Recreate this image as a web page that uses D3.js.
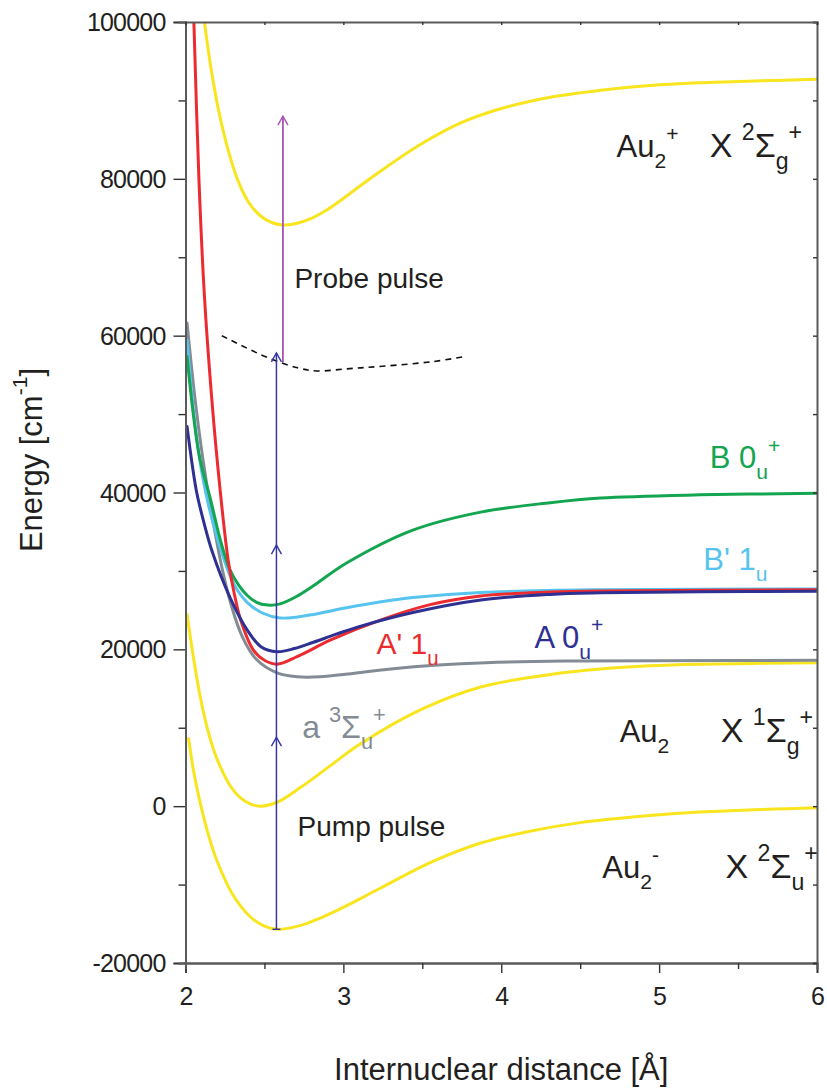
<!DOCTYPE html>
<html>
<head>
<meta charset="utf-8">
<script src="https://cdn.jsdelivr.net/npm/d3@7"></script>
<style>
body { margin: 0; background: #fff; }
text { font-family: "Liberation Sans", Arial, Helvetica, sans-serif; }
</style>
</head>
<body>
<svg width="827" height="1088"></svg>
<script>
// potential curves: internuclear distance (Å) and energy (cm-1)
const rCationX = [2.12, 2.16, 2.21, 2.27, 2.33, 2.40, 2.48, 2.55, 2.62, 2.70, 2.79, 2.90, 3.00, 3.12, 3.23, 3.49, 3.74, 3.99, 4.31, 4.63, 4.94, 5.26, 5.64, 6.00];
const eCationX = [100000, 94300, 88700, 83700, 79900, 77000, 75200, 74400, 74100, 74300, 74900, 76100, 77500, 79300, 80900, 84400, 87100, 88900, 90400, 91300, 91900, 92250, 92500, 92700];

const rNeutralX = [2.01, 2.05, 2.09, 2.14, 2.20, 2.30, 2.38, 2.47, 2.58, 2.73, 2.92, 3.09, 3.49, 3.87, 4.31, 4.63, 4.94, 5.26, 6.00];
const eNeutralX = [24400, 19000, 14300, 9800, 6000, 2100, 600, 0, 500, 2400, 5200, 7700, 12300, 15200, 16800, 17500, 17900, 18100, 18300];

const rAnionX = [2.02, 2.05, 2.09, 2.14, 2.20, 2.30, 2.41, 2.50, 2.58, 2.73, 2.85, 2.98, 3.23, 3.55, 3.87, 4.18, 4.50, 4.94, 5.26, 6.00];
const eAnionX = [8600, 4600, 700, -3300, -7000, -11300, -14100, -15300, -15700, -15200, -14300, -13100, -10500, -7200, -4700, -3200, -2100, -1200, -750, -200];

const rStateA3 = [2.01, 2.06, 2.11, 2.17, 2.23, 2.29, 2.36, 2.45, 2.58, 2.71, 2.85, 3.05, 3.30, 3.60, 3.90, 4.40, 5.00, 6.00];
const eStateA3 = [61600, 52000, 44300, 36800, 30500, 25600, 21600, 18700, 17000, 16500, 16500, 16900, 17500, 18000, 18300, 18500, 18550, 18600];

const rStateA0 = [2.01, 2.04, 2.07, 2.12, 2.17, 2.28, 2.39, 2.48, 2.58, 2.69, 2.81, 2.95, 3.10, 3.44, 3.87, 4.31, 4.63, 5.26, 6.00];
const eStateA0 = [48400, 43900, 40100, 35900, 32400, 26700, 22500, 20300, 19700, 20100, 20900, 21900, 22900, 24700, 26300, 27000, 27200, 27350, 27400];

const rStateA1 = [2.053, 2.085, 2.12, 2.165, 2.218, 2.27, 2.31, 2.35, 2.43, 2.50, 2.58, 2.71, 2.92, 3.23, 3.55, 3.87, 4.31, 4.63, 6.00];
const eStateA1 = [100000, 80000, 65000, 52300, 40600, 31400, 27000, 23700, 19900, 18600, 18100, 19100, 21200, 23700, 25700, 26800, 27300, 27450, 27600];

const rStateB0 = [2.01, 2.05, 2.09, 2.16, 2.22, 2.28, 2.34, 2.39, 2.45, 2.52, 2.60, 2.70, 2.81, 3.02, 3.44, 3.87, 4.31, 4.63, 5.26, 6.00];
const eStateB0 = [57300, 49900, 44400, 39000, 34000, 30200, 28100, 26900, 26000, 25650, 25800, 26700, 28100, 31000, 35200, 37500, 38700, 39300, 39700, 39900];

const rStateB1 = [2.01, 2.05, 2.09, 2.14, 2.21, 2.28, 2.33, 2.39, 2.49, 2.60, 2.70, 2.81, 3.02, 3.25, 3.44, 3.87, 4.63, 6.00];
const eStateB1 = [59400, 50500, 44200, 38900, 33600, 29500, 27500, 26000, 24600, 24000, 24100, 24450, 25300, 26100, 26600, 27250, 27600, 27700];

const rIonLimit = [2.23, 2.52, 2.71, 2.83, 3.04, 3.25, 3.57, 3.76];
const eIonLimit = [60000, 57200, 55900, 55500, 55800, 56100, 56700, 57300];

// pulse arrows: position (Å), start, end and chevron energies (cm-1)
const pumpR = 2.576, pumpFrom = -15700, pumpTo = 57800, pumpMarks = [8800, 33300, 57800];
const probeR = 2.617, probeFrom = 56600, probeTo = 88000;

const xTicks = [2, 3, 4, 5, 6];
const xMinor = [2.5, 3.5, 4.5, 5.5];
const yTicks = [-20000, 0, 20000, 40000, 60000, 80000, 100000];
const yMinor = [-10000, 10000, 30000, 50000, 70000, 90000];

const svg = d3.select("svg");
const area = { left: 185.5, right: 817, top: 22, bottom: 963 };

const x = d3.scaleLinear().domain([2, 6]).range([area.left, area.right]);
const y = d3.scaleLinear().domain([-20000, 100000]).range([area.bottom, area.top]);

svg.append("defs").append("clipPath").attr("id", "plotClip")
    .append("rect")
    .attr("x", area.left).attr("y", area.top)
    .attr("width", area.right - area.left).attr("height", area.bottom - area.top);

const plot = svg.append("g").attr("clip-path", "url(#plotClip)");

const curves = [
    { r: rCationX, e: eCationX, color: "#f8e51e" },
    { r: rNeutralX, e: eNeutralX, color: "#f8e51e" },
    { r: rAnionX, e: eAnionX, color: "#f8e51e" },
    { r: rStateA3, e: eStateA3, color: "#838c94" },
    { r: rStateB1, e: eStateB1, color: "#56c4ee" },
    { r: rStateB0, e: eStateB0, color: "#13a550" },
    { r: rStateA1, e: eStateA1, color: "#ec2b30" },
    { r: rStateA0, e: eStateA0, color: "#2e3192" }
];

const line = d3.line()
    .x(d => x(d[0]))
    .y(d => y(d[1]))
    .curve(d3.curveCatmullRom.alpha(0.5));

curves.forEach(c => {
    plot.append("path")
        .attr("d", line(d3.zip(c.r, c.e)))
        .attr("fill", "none")
        .attr("stroke", c.color)
        .attr("stroke-width", 3)
        .attr("stroke-linecap", "round");
});

plot.append("path")
    .attr("d", line(d3.zip(rIonLimit, eIonLimit)))
    .attr("fill", "none")
    .attr("stroke", "#111")
    .attr("stroke-width", 1.6)
    .attr("stroke-dasharray", "6,5");

// arrows
function chevron(px, py, color) {
    plot.append("path")
        .attr("d", `M${px - 5},${py + 9}L${px},${py}L${px + 5},${py + 9}`)
        .attr("fill", "none")
        .attr("stroke", color)
        .attr("stroke-width", 1.4);
}

plot.append("line")
    .attr("x1", x(pumpR)).attr("x2", x(pumpR))
    .attr("y1", y(pumpFrom)).attr("y2", y(pumpTo))
    .attr("stroke", "#3636a6").attr("stroke-width", 1.5);
plot.append("line")
    .attr("x1", x(pumpR) - 4).attr("x2", x(pumpR) + 4)
    .attr("y1", y(pumpFrom)).attr("y2", y(pumpFrom))
    .attr("stroke", "#3636a6").attr("stroke-width", 1.4);
pumpMarks.forEach(e => chevron(x(pumpR), y(e), "#3636a6"));

plot.append("line")
    .attr("x1", x(probeR)).attr("x2", x(probeR))
    .attr("y1", y(probeFrom)).attr("y2", y(probeTo))
    .attr("stroke", "#a653b3").attr("stroke-width", 1.8);
chevron(x(probeR), y(probeTo), "#a653b3");

// axes / frame
const axisColor = "#5a5a5a";
function styleAxis(g) {
    g.select(".domain").attr("stroke", axisColor).attr("stroke-width", 2);
    g.selectAll(".tick line").attr("stroke", "#333").attr("stroke-width", 1.4);
    g.selectAll(".tick text")
        .attr("fill", "#231f20")
        .style("font-size", "25px")
        .style("letter-spacing", "-0.8px");
}
const plainNumber = d => String(d);

svg.append("g")
    .attr("transform", `translate(${area.left},0)`)
    .call(d3.axisLeft(y).tickValues(yTicks).tickFormat(plainNumber).tickSize(12).tickPadding(8))
    .call(styleAxis)
    .call(g => g.selectAll(".tick text").attr("dy", "0.34em"));
svg.append("g")
    .attr("transform", `translate(${area.left},0)`)
    .call(d3.axisLeft(y).tickValues(yMinor).tickFormat("").tickSize(7))
    .call(styleAxis);

svg.append("g")
    .attr("transform", `translate(0,${area.bottom})`)
    .call(d3.axisBottom(x).tickValues(xTicks).tickFormat(plainNumber).tickSize(10).tickPadding(14))
    .call(styleAxis);
svg.append("g")
    .attr("transform", `translate(0,${area.bottom})`)
    .call(d3.axisBottom(x).tickValues(xMinor).tickFormat("").tickSize(6))
    .call(styleAxis);

svg.append("g")
    .attr("transform", `translate(${area.right},0)`)
    .call(d3.axisRight(y).tickValues(yTicks.concat(yMinor)).tickFormat("").tickSize(-4))
    .call(styleAxis);
svg.append("g")
    .attr("transform", `translate(0,${area.top})`)
    .call(d3.axisTop(x).tickValues(xTicks.concat(xMinor)).tickFormat("").tickSize(-3))
    .call(styleAxis);

// rich labels with sub/superscripts
function richText(parent, px, py, parts, color, size, anchor) {
    const t = parent.append("text")
        .attr("x", px).attr("y", py)
        .attr("fill", color)
        .attr("text-anchor", anchor || "start")
        .style("font-size", size + "px");
    let shift = 0;
    parts.forEach(p => {
        const target = p.sub ? size * 0.36 : p.sup ? -size * 0.5 : 0;
        t.append("tspan")
            .attr("dy", target - shift)
            .style("font-size", (p.sub || p.sup) ? (size * 0.68) + "px" : size + "px")
            .text(p.t);
        shift = target;
    });
    return t;
}

const ink = "#231f20";
richText(svg, x(4.73), y(82800), [{ t: "Au" }, { t: "2", sub: true }, { t: "+", sup: true }], ink, 31);
richText(svg, x(5.32), y(82800), [{ t: "X " }, { t: "2", sup: true }, { t: "Σ" }, { t: "g", sub: true }, { t: "+", sup: true }], ink, 34);
richText(svg, x(4.75), y(8200), [{ t: "Au" }, { t: "2", sub: true }], ink, 31);
richText(svg, x(5.39), y(8200), [{ t: "X " }, { t: "1", sup: true }, { t: "Σ" }, { t: "g", sub: true }, { t: "+", sup: true }], ink, 34);
richText(svg, x(4.64), y(-9150), [{ t: "Au" }, { t: "2", sub: true }, { t: "-", sup: true }], ink, 31);
richText(svg, x(5.42), y(-9150), [{ t: "X " }, { t: "2", sup: true }, { t: "Σ" }, { t: "u", sub: true }, { t: "+", sup: true }], ink, 34);

richText(svg, x(5.32), y(43100), [{ t: "B 0" }, { t: "u", sub: true }, { t: "+", sup: true }], "#13a550", 31);
richText(svg, x(5.28), y(30100), [{ t: "B' 1" }, { t: "u", sub: true }], "#56c4ee", 31);
richText(svg, x(4.21), y(20200), [{ t: "A 0" }, { t: "u", sub: true }, { t: "+", sup: true }], "#2e3192", 31);
richText(svg, x(3.21), y(19400), [{ t: "A' 1" }, { t: "u", sub: true }], "#ec2b30", 30);
richText(svg, x(2.74), y(8700), [{ t: "a " }, { t: "3", sup: true }, { t: "Σ" }, { t: "u", sub: true }, { t: "+", sup: true }], "#838c94", 32);

richText(svg, x(2.69), y(66100), [{ t: "Probe pulse" }], ink, 28);
richText(svg, x(2.71), y(-3800), [{ t: "Pump pulse" }], ink, 28);

// axis titles
svg.append("text")
    .attr("x", (area.left + area.right) / 2)
    .attr("y", 1080)
    .attr("text-anchor", "middle")
    .attr("fill", ink)
    .style("font-size", "31px")
    .text("Internuclear distance [Å]");

const yTitle = svg.append("g").attr("transform", "translate(42,460) rotate(-90)");
richText(yTitle, 0, 0, [{ t: "Energy [cm" }, { t: "-1", sup: true }, { t: "]" }], ink, 31, "middle");
</script>
</body>
</html>
